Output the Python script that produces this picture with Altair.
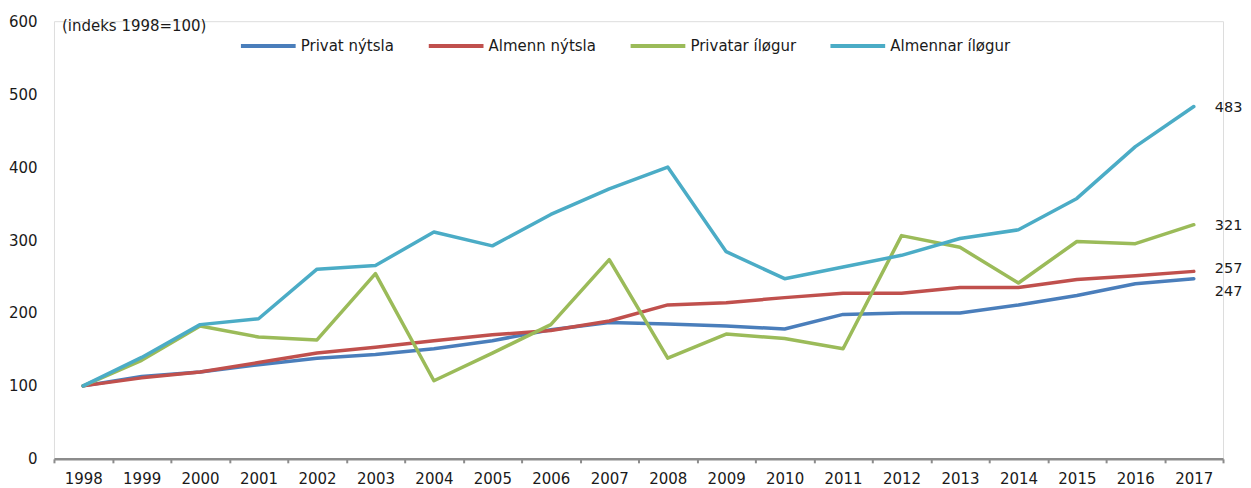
import altair as alt
import pandas as pd

years = [str(y) for y in range(1998, 2018)]
series_names = ["Privat nýtsla", "Almenn nýtsla", "Privatar íløgur", "Almennar íløgur"]
colors = ["#4A7EBB", "#C0504D", "#9BBB59", "#4BACC6"]

privat_nytsla = [100, 113, 119, 129, 138, 143, 151, 162, 177, 187, 185, 182, 178, 198, 200, 200, 211, 224, 240, 247]
almenn_nytsla = [100, 111, 119, 132, 145, 153, 162, 170, 176, 189, 211, 214, 221, 227, 227, 235, 235, 246, 251, 257]
privatar_ilogur = [100, 135, 182, 167, 163, 254, 107, 145, 184, 273, 138, 171, 165, 151, 306, 290, 241, 298, 295, 321]
almennar_ilogur = [100, 139, 184, 192, 260, 265, 311, 292, 335, 370, 400, 284, 247, 263, 279, 302, 314, 357, 428, 483]

end_labels = ["247", "257", "321", "483"]

all_series = [privat_nytsla, almenn_nytsla, privatar_ilogur, almennar_ilogur]
rows = []
for name, vals in zip(series_names, all_series):
    for y, v in zip(years, vals):
        rows.append({"year": y, "value": v, "series": name})
df = pd.DataFrame(rows)

last = pd.DataFrame({
    "year": [years[-1]] * 4,
    "value": [s[-1] for s in all_series],
    "series": series_names,
    "label": end_labels,
})

FONT = "DejaVu Sans"
TXT = "#1a1a1a"

x_enc = alt.X(
    "year:O",
    scale=alt.Scale(type="band", paddingInner=0, paddingOuter=0),
    bandPosition=0.5,
    axis=alt.Axis(
        title=None, labelAngle=0, tickBand="extent", grid=False,
        domainColor="#8c8c8c", domainWidth=2.5, tickColor="#8c8c8c",
        tickWidth=2, tickSize=4, labelPadding=9, labelFontSize=15,
        labelFont=FONT, labelColor=TXT,
    ),
)
y_enc = alt.Y(
    "value:Q",
    scale=alt.Scale(domain=[0, 600], nice=False),
    axis=alt.Axis(
        title=None, values=[0, 100, 200, 300, 400, 500, 600], grid=False,
        domain=False, ticks=False, labelPadding=17, labelFontSize=15,
        labelFont=FONT, labelColor=TXT,
    ),
)

lines = alt.Chart(df).mark_line(strokeWidth=3.5, strokeCap="round", strokeJoin="round").encode(
    x=x_enc,
    y=y_enc,
    color=alt.Color(
        "series:N",
        scale=alt.Scale(domain=series_names, range=colors),
        legend=alt.Legend(
            title=None, orient="none", direction="horizontal", legendX=185, legendY=-5,
            symbolType="stroke", symbolSize=3000, symbolStrokeWidth=4,
            labelFontSize=15, labelFont=FONT, labelColor=TXT, labelOffset=3,
            columnPadding=26,
        ),
    ),
)

labels_main = alt.Chart(last).transform_filter(
    (alt.datum.label != "247") & (alt.datum.label != "257")
).mark_text(
    align="left", baseline="middle", dx=21, dy=1, fontSize=14.5, font=FONT, color=TXT
).encode(x=x_enc, y=y_enc, text="label:N")

labels_mid = alt.Chart(last).transform_filter(alt.datum.label == "257").mark_text(
    align="left", baseline="middle", dx=21, dy=-2, fontSize=14.5, font=FONT, color=TXT
).encode(x=x_enc, y=y_enc, text="label:N")

labels_low = alt.Chart(last).transform_filter(alt.datum.label == "247").mark_text(
    align="left", baseline="middle", dx=21, dy=13, fontSize=14.5, font=FONT, color=TXT
).encode(x=x_enc, y=y_enc, text="label:N")

note = alt.Chart(pd.DataFrame({"t": ["(indeks 1998=100)"]})).mark_text(
    align="left", baseline="middle", fontSize=15, font=FONT, color=TXT
).encode(x=alt.value(8), y=alt.value(5), text="t:N")

chart = alt.layer(lines, labels_main, labels_mid, labels_low, note).properties(
    width=1170, height=438,
    padding={"left": 0, "top": 6, "right": 0, "bottom": 0},
).configure_view(stroke=None).configure(background="white")

chart.save("out.html", embed_options={"renderer": "svg", "actions": False})
